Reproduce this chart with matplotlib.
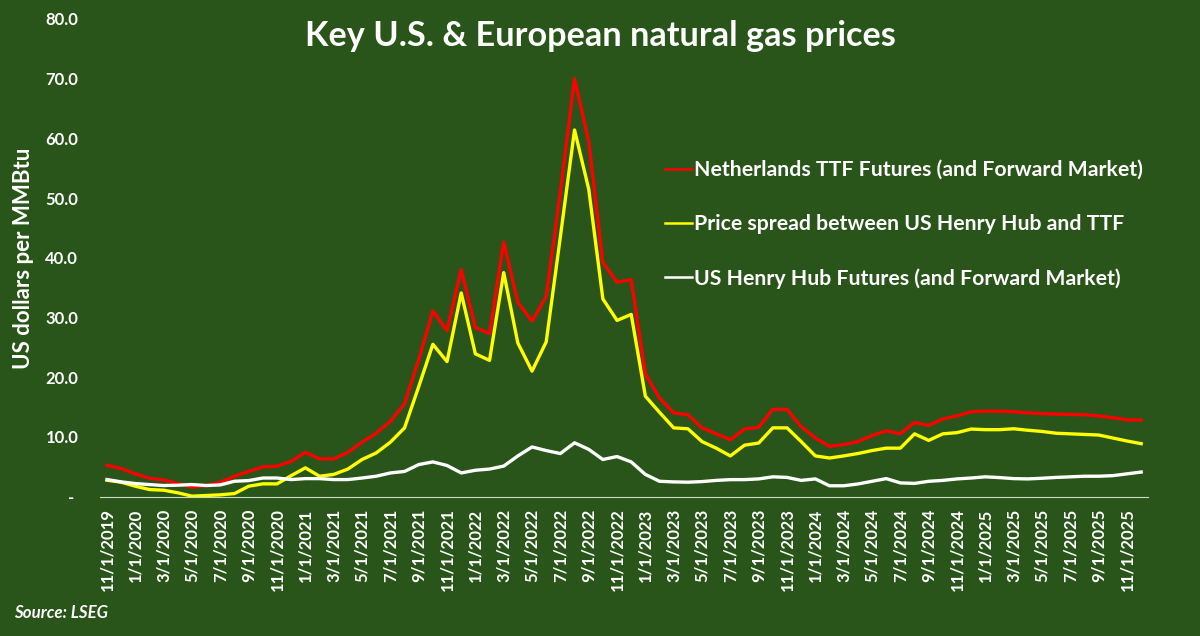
import pandas as pd
import matplotlib
matplotlib.use("Agg")
import matplotlib.pyplot as plt

# monthly points, Nov 2019 .. Dec 2025
months = pd.date_range("2019-11-01", "2025-12-01", freq="MS")
month_labels = [f"{d.month}/1/{d.year}" for d in months]

ttf = [5.24, 4.68, 3.8, 3.06, 2.78, 2.17, 1.56, 1.84, 2.4, 3.4,
       4.2, 4.96, 5.07, 5.9, 7.4, 6.3, 6.3, 7.4, 9.1, 10.6,
       12.6, 15.5, 22.9, 31.1, 27.8, 38.0, 28.3, 27.3, 42.6, 32.5,
       29.4, 33.5, 51.0, 70.0, 59.5, 39.2, 35.9, 36.3, 20.5, 16.5,
       14.0, 13.7, 11.5, 10.5, 9.5, 11.3, 11.6, 14.6, 14.6, 11.7,
       9.8, 8.4, 8.7, 9.2, 10.2, 11.0, 10.5, 12.4, 11.9, 13.0,
       13.5, 14.2, 14.3, 14.3, 14.2, 14.0, 13.9, 13.8, 13.75, 13.7,
       13.5, 13.2, 12.85, 12.8]

spread = [2.73, 2.4, 1.73, 1.17, 1.06, 0.62, 0.06, 0.17, 0.28, 0.5,
          1.73, 2.12, 2.12, 3.5, 4.8, 3.4, 3.7, 4.6, 6.2, 7.3,
          9.1, 11.5, 18.4, 25.5, 22.6, 34.1, 23.9, 22.8, 37.5, 25.7,
          21.0, 25.9, 43.5, 61.4, 51.5, 33.1, 29.5, 30.5, 16.8, 14.1,
          11.5, 11.35, 9.2, 8.1, 6.8, 8.6, 8.96, 11.5, 11.5, 9.2,
          6.8, 6.45, 6.8, 7.2, 7.7, 8.1, 8.1, 10.5, 9.4, 10.5,
          10.7, 11.3, 11.2, 11.2, 11.35, 11.1, 10.9, 10.6, 10.5, 10.4,
          10.3, 9.8, 9.3, 8.85]

henry_hub = [2.84, 2.45, 2.17, 2.0, 1.84, 1.9, 2.0, 1.84, 1.95, 2.56,
             2.67, 3.1, 3.1, 2.84, 3.0, 3.0, 2.84, 2.84, 3.1, 3.4,
             3.95, 4.2, 5.35, 5.8, 5.2, 3.95, 4.4, 4.6, 5.1, 6.8,
             8.3, 7.7, 7.2, 9.0, 7.9, 6.2, 6.7, 5.8, 3.7, 2.55,
             2.45, 2.4, 2.5, 2.7, 2.83, 2.83, 2.95, 3.3, 3.2, 2.7,
             2.95, 1.8, 1.8, 2.1, 2.55, 3.0, 2.28, 2.2, 2.55, 2.7,
             2.95, 3.1, 3.3, 3.17, 3.0, 2.95, 3.06, 3.2, 3.3, 3.4,
             3.4, 3.5, 3.8, 4.1]

BG = "#2a551a"

plt.rcParams["font.family"] = ["Lato", "DejaVu Sans"]
plt.rcParams["font.weight"] = "bold"

fig = plt.figure(figsize=(12, 6.36), dpi=100, facecolor=BG)
ax = fig.add_axes([0.0833, 0.2193, 0.8736, 0.7510], facecolor=BG)

x = list(range(len(months)))
l_ttf, = ax.plot(x, ttf, color="#ff0000", lw=2.4, solid_joinstyle="round",
                 label="Netherlands TTF Futures (and Forward Market)")
l_spr, = ax.plot(x, spread, color="#ffff00", lw=2.4, solid_joinstyle="round",
                 label="Price spread between US Henry Hub and TTF")
l_hh, = ax.plot(x, henry_hub, color="white", lw=2.4, solid_joinstyle="round",
                label="US Henry Hub Futures (and Forward Market)")

ax.set_xlim(-0.5, len(months) - 0.5)
ax.set_ylim(0, 80)
ax.set_yticks(range(0, 81, 10))
ax.set_yticklabels(["- "] + [f"{v:.1f}" for v in range(10, 81, 10)])
ax.set_xticks(x[::2])
ax.set_xticklabels(month_labels[::2], rotation=90)
ax.tick_params(axis="x", length=0, pad=8.6, colors="white", labelsize=12)
ax.tick_params(axis="y", length=0, pad=15.6, colors="white", labelsize=12)
for side in ["top", "right", "left"]:
    ax.spines[side].set_visible(False)
ax.spines["bottom"].set_color("#c8dcc0")
ax.spines["bottom"].set_linewidth(0.8)

leg = ax.legend(handles=[l_ttf, l_spr, l_hh], loc="upper left",
                bbox_to_anchor=(665 / 1200, 1 - 160 / 636),
                bbox_transform=fig.transFigure, frameon=False,
                fontsize=15.3, labelcolor="white", borderpad=0, borderaxespad=0,
                handlelength=1.27, handletextpad=0.1, labelspacing=1.6)
for h in leg.get_lines():
    h.set_linewidth(1.8)

fig.text(0.5, 1 - 45.7 / 636, "Key U.S. & European natural gas prices",
         ha="center", va="baseline", fontsize=24.7, color="white", weight="bold")
fig.text(24 / 1200, 1 - 258 / 636, "US dollars per MMBtu", rotation=90,
         ha="center", va="center", fontsize=16, color="white", weight="bold")
fig.text(14 / 1200, 1 - 612.7 / 636, "Source: LSEG", ha="left", va="center",
         fontsize=12.2, color="white", weight="bold", style="italic")

fig.savefig("out.png", dpi=100, facecolor=BG)
